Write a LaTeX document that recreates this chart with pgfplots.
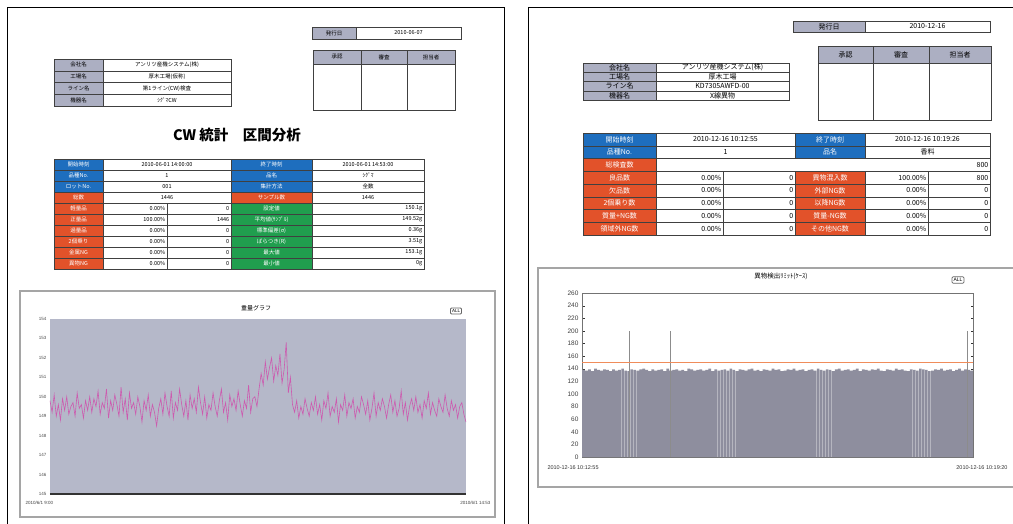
\documentclass[border=0pt]{standalone}
\usepackage{pgfplots}
\pgfplotsset{compat=1.18}
\usepackage{fontspec}
\setmainfont{Noto Sans CJK JP}
\newfontfamily\lat{Liberation Sans}

\definecolor{hdgray}{RGB}{172,175,194}
\definecolor{cblue}{RGB}{30,110,190}
\definecolor{cred}{RGB}{226,82,42}
\definecolor{cgreen}{RGB}{32,158,78}
\definecolor{plotbg}{RGB}{181,184,201}
\definecolor{wline}{RGB}{205,90,175}
\definecolor{barcol}{RGB}{142,142,158}
\definecolor{limit}{RGB}{240,140,90}
\definecolor{framegray}{RGB}{165,165,165}

% label cell: fill, text colour, x, y, w, h, text
\newcommand\lab[7]{\node[fill=#1, draw=black!75, line width=0.4pt, text=#2, minimum width=#5pt, minimum height=#6pt, anchor=north west, inner sep=0pt, outer sep=0pt] at (#3,-#4) {#7};}
% value cell: x, y, w, h, c/r, text
\newcommand\vcell[6]{\draw[black!75, line width=0.4pt, fill=white] (#1,-#2) rectangle ++(#3,-#4);
  \ifx c#5\node[inner sep=0pt] at ({#1+#3/2},{-#2-#4/2}) {#6};\else\node[inner sep=0pt, anchor=east] at ({#1+#3-1.5},{-#2-#4/2}) {#6};\fi}

\begin{document}
\begin{tikzpicture}[x=1pt,y=1pt]
\useasboundingbox (0,0) rectangle (1013,-524);
\clip (0,0) rectangle (1013,-524);
\fill[white] (0,0) rectangle (1013,-524);

%% ---------------- left page ----------------
\draw[line width=1pt] (7,-540) -- (7,-8) -- (504,-8) -- (504,-540);
\begin{scope}[font=\fontsize{5.5}{6}\selectfont]
  \lab{hdgray}{black}{312}{27}{44}{12}{発行日}
  \vcell{356}{27}{105}{12}{c}{2010-06-07}
  \lab{hdgray}{black}{313}{50}{48}{14}{承認}
  \lab{hdgray}{black}{361}{50}{46}{14}{審査}
  \lab{hdgray}{black}{407}{50}{48}{14}{担当者}
  \vcell{313}{64}{48}{46}{c}{}
  \vcell{361}{64}{46}{46}{c}{}
  \vcell{407}{64}{48}{46}{c}{}

  \lab{hdgray}{black}{54}{59}{49}{11.75}{会社名}
  \vcell{103}{59}{128}{11.75}{c}{アンリツ産機システム(株)}
  \lab{hdgray}{black}{54}{70.75}{49}{11.75}{工場名}
  \vcell{103}{70.75}{128}{11.75}{c}{厚木工場(仮称)}
  \lab{hdgray}{black}{54}{82.5}{49}{11.75}{ライン名}
  \vcell{103}{82.5}{128}{11.75}{c}{第1ライン(CW)検査}
  \lab{hdgray}{black}{54}{94.25}{49}{11.75}{機器名}
  \vcell{103}{94.25}{128}{11.75}{c}{ｼｸﾞﾏCW}

  % main table
  \lab{cblue}{white}{54}{159}{49}{11}{開始時刻}
  \vcell{103}{159}{128}{11}{c}{2010-06-01 14:00:00}
  \lab{cblue}{white}{231}{159}{81}{11}{終了時刻}
  \vcell{312}{159}{112}{11}{c}{2010-06-01 14:53:00}
  \lab{cblue}{white}{54}{170}{49}{11}{品種No.}
  \vcell{103}{170}{128}{11}{c}{1}
  \lab{cblue}{white}{231}{170}{81}{11}{品名}
  \vcell{312}{170}{112}{11}{c}{ｼｸﾞﾏ}
  \lab{cblue}{white}{54}{181}{49}{11}{ロットNo.}
  \vcell{103}{181}{128}{11}{c}{001}
  \lab{cblue}{white}{231}{181}{81}{11}{集計方法}
  \vcell{312}{181}{112}{11}{c}{全数}
  \lab{cred}{white}{54}{192}{49}{11}{総数}
  \vcell{103}{192}{128}{11}{c}{1446}
  \lab{cred}{white}{231}{192}{81}{11}{サンプル数}
  \vcell{312}{192}{112}{11}{c}{1446}

  \lab{cred}{white}{54}{203}{49}{11}{軽量品}
  \vcell{103}{203}{64}{11}{r}{0.00\%}
  \vcell{167}{203}{64}{11}{r}{0}
  \lab{cgreen}{white}{231}{203}{81}{11}{設定値}
  \vcell{312}{203}{112}{11}{r}{150.1g}
  \lab{cred}{white}{54}{214}{49}{11}{正量品}
  \vcell{103}{214}{64}{11}{r}{100.00\%}
  \vcell{167}{214}{64}{11}{r}{1446}
  \lab{cgreen}{white}{231}{214}{81}{11}{平均値(ｻﾝﾌﾟﾙ)}
  \vcell{312}{214}{112}{11}{r}{149.52g}
  \lab{cred}{white}{54}{225}{49}{11}{過量品}
  \vcell{103}{225}{64}{11}{r}{0.00\%}
  \vcell{167}{225}{64}{11}{r}{0}
  \lab{cgreen}{white}{231}{225}{81}{11}{標準偏差(σ)}
  \vcell{312}{225}{112}{11}{r}{0.36g}
  \lab{cred}{white}{54}{236}{49}{11}{2個乗り}
  \vcell{103}{236}{64}{11}{r}{0.00\%}
  \vcell{167}{236}{64}{11}{r}{0}
  \lab{cgreen}{white}{231}{236}{81}{11}{ばらつき(R)}
  \vcell{312}{236}{112}{11}{r}{3.51g}
  \lab{cred}{white}{54}{247}{49}{11}{金属NG}
  \vcell{103}{247}{64}{11}{r}{0.00\%}
  \vcell{167}{247}{64}{11}{r}{0}
  \lab{cgreen}{white}{231}{247}{81}{11}{最大値}
  \vcell{312}{247}{112}{11}{r}{153.1g}
  \lab{cred}{white}{54}{258}{49}{11}{異物NG}
  \vcell{103}{258}{64}{11}{r}{0.00\%}
  \vcell{167}{258}{64}{11}{r}{0}
  \lab{cgreen}{white}{231}{258}{81}{11}{最小値}
  \vcell{312}{258}{112}{11}{r}{0g}
\end{scope}
\node[font=\fontsize{14.5}{15}\selectfont\bfseries] at (237,-135) {CW 統計　区間分析};

% weight chart
\draw[framegray, line width=1.2pt] (20,-291) rectangle (495,-517);
\node[font=\fontsize{6}{7}\selectfont] at (256,-308) {重量グラフ};
\node[draw=black!60, line width=0.8pt, rounded corners=1pt, font=\lat\fontsize{4.5}{5}\selectfont, inner sep=1.5pt] at (456,-311) {ALL};
\node[anchor=west, font=\lat\fontsize{4.5}{5}\selectfont, text=black!75] at (22,-503) {2010/6/1 9:00};
\node[anchor=east, font=\lat\fontsize{4.5}{5}\selectfont, text=black!75] at (494,-503) {2010/6/1 14:53};
\begin{axis}[at={(50pt,-494pt)}, anchor=south west, scale only axis,
  width=416pt, height=175pt,
  xmin=0, xmax=199, ymin=145, ymax=154,
  ytick={145,...,154}, xtick=\empty,
  axis lines*=left,
  x axis line style={line width=2pt, black!80},
  y axis line style={draw=none},
  ytick style={draw=none},
  yticklabel style={font=\lat\fontsize{4.5}{5}\selectfont, text=black!70},
  /pgf/number format/assume math mode=true,
  axis background/.style={fill=plotbg}]
\addplot[wline, line width=0.6pt, no markers] table[row sep=\\, header=false, x expr=\coordindex, y index=0] {
149.8\\149.2\\150.1\\149.0\\149.6\\148.8\\149.9\\149.3\\150.0\\149.1\\
149.5\\149.7\\149.0\\150.2\\149.4\\149.6\\148.9\\149.8\\149.3\\150.0\\
149.2\\149.9\\149.5\\150.3\\149.1\\149.7\\149.4\\150.4\\148.9\\149.8\\
149.3\\150.1\\149.6\\149.0\\150.5\\149.2\\149.9\\148.8\\150.2\\149.4\\
149.7\\149.1\\150.0\\149.5\\148.7\\149.8\\149.3\\150.1\\149.0\\149.6\\
149.2\\148.5\\149.4\\149.9\\149.1\\150.2\\149.5\\149.0\\150.3\\148.9\\
149.7\\149.3\\150.4\\149.6\\149.0\\149.8\\148.8\\150.1\\149.4\\149.9\\
149.2\\150.5\\149.7\\149.1\\150.0\\148.9\\149.6\\149.3\\150.2\\149.5\\
149.0\\149.8\\150.4\\149.2\\149.7\\148.8\\150.1\\149.5\\149.9\\149.3\\
150.3\\149.6\\149.0\\149.8\\149.4\\150.6\\149.2\\149.9\\150.0\\149.5\\
150.4\\151.2\\150.6\\151.8\\150.9\\151.5\\152.0\\150.8\\151.6\\151.1\\
152.2\\150.7\\151.4\\152.8\\150.2\\151.0\\
149.6\\149.2\\149.8\\148.9\\149.5\\149.1\\149.9\\149.4\\149.0\\149.7\\
149.3\\150.0\\149.1\\149.6\\148.8\\149.8\\149.4\\150.2\\149.0\\149.5\\
149.2\\149.9\\148.7\\149.6\\149.3\\150.1\\149.0\\149.7\\149.4\\149.9\\
148.9\\149.5\\149.2\\150.0\\149.6\\149.1\\149.8\\148.8\\149.4\\150.2\\
149.0\\149.7\\149.3\\149.9\\149.5\\148.9\\149.6\\150.1\\149.2\\149.8\\
149.0\\149.4\\150.3\\149.1\\149.7\\148.8\\149.5\\149.9\\149.3\\150.0\\
149.2\\149.6\\148.9\\149.8\\149.4\\150.2\\149.1\\149.7\\149.3\\149.0\\
149.9\\149.5\\149.2\\150.1\\149.4\\149.0\\149.8\\149.3\\149.6\\148.9\\
149.5\\149.7\\149.1\\148.7\\
};
\end{axis}

%% ---------------- right page ----------------
\draw[line width=1pt] (528,-540) -- (528,-8) -- (1030,-8);
\begin{scope}[font=\fontsize{7}{8}\selectfont]
  \lab{hdgray}{black}{793}{21}{72}{11}{発行日}
  \vcell{865}{21}{125}{11}{c}{2010-12-16}
  \lab{hdgray}{black}{818}{46}{55}{17}{承認}
  \lab{hdgray}{black}{873}{46}{56}{17}{審査}
  \lab{hdgray}{black}{929}{46}{62}{17}{担当者}
  \vcell{818}{63}{55}{57}{c}{}
  \vcell{873}{63}{56}{57}{c}{}
  \vcell{929}{63}{62}{57}{c}{}

  \lab{hdgray}{black}{583}{63}{73}{9.25}{会社名}
  \vcell{656}{63}{133}{9.25}{c}{アンリツ産機システム(株)}
  \lab{hdgray}{black}{583}{72.25}{73}{9.25}{工場名}
  \vcell{656}{72.25}{133}{9.25}{c}{厚木工場}
  \lab{hdgray}{black}{583}{81.5}{73}{9.25}{ライン名}
  \vcell{656}{81.5}{133}{9.25}{c}{KD7305AWFD-00}
  \lab{hdgray}{black}{583}{90.75}{73}{9.25}{機器名}
  \vcell{656}{90.75}{133}{9.25}{c}{X線異物}

  % main table
  \lab{cblue}{white}{583}{133}{73}{12.75}{開始時刻}
  \vcell{656}{133}{139}{12.75}{c}{2010-12-16 10:12:55}
  \lab{cblue}{white}{795}{133}{70}{12.75}{終了時刻}
  \vcell{865}{133}{125}{12.75}{c}{2010-12-16 10:19:26}
  \lab{cblue}{white}{583}{145.75}{73}{12.75}{品種No.}
  \vcell{656}{145.75}{139}{12.75}{c}{1}
  \lab{cblue}{white}{795}{145.75}{70}{12.75}{品名}
  \vcell{865}{145.75}{125}{12.75}{c}{香料}
  \lab{cred}{white}{583}{158.5}{73}{12.75}{総検査数}
  \vcell{656}{158.5}{334}{12.75}{r}{800}

  \lab{cred}{white}{583}{171.25}{73}{12.75}{良品数}
  \vcell{656}{171.25}{67}{12.75}{r}{0.00\%}
  \vcell{723}{171.25}{72}{12.75}{r}{0}
  \lab{cred}{white}{795}{171.25}{70}{12.75}{異物混入数}
  \vcell{865}{171.25}{63}{12.75}{r}{100.00\%}
  \vcell{928}{171.25}{62}{12.75}{r}{800}
  \lab{cred}{white}{583}{184}{73}{12.75}{欠品数}
  \vcell{656}{184}{67}{12.75}{r}{0.00\%}
  \vcell{723}{184}{72}{12.75}{r}{0}
  \lab{cred}{white}{795}{184}{70}{12.75}{外部NG数}
  \vcell{865}{184}{63}{12.75}{r}{0.00\%}
  \vcell{928}{184}{62}{12.75}{r}{0}
  \lab{cred}{white}{583}{196.75}{73}{12.75}{2個乗り数}
  \vcell{656}{196.75}{67}{12.75}{r}{0.00\%}
  \vcell{723}{196.75}{72}{12.75}{r}{0}
  \lab{cred}{white}{795}{196.75}{70}{12.75}{以降NG数}
  \vcell{865}{196.75}{63}{12.75}{r}{0.00\%}
  \vcell{928}{196.75}{62}{12.75}{r}{0}
  \lab{cred}{white}{583}{209.5}{73}{12.75}{質量+NG数}
  \vcell{656}{209.5}{67}{12.75}{r}{0.00\%}
  \vcell{723}{209.5}{72}{12.75}{r}{0}
  \lab{cred}{white}{795}{209.5}{70}{12.75}{質量-NG数}
  \vcell{865}{209.5}{63}{12.75}{r}{0.00\%}
  \vcell{928}{209.5}{62}{12.75}{r}{0}
  \lab{cred}{white}{583}{222.25}{73}{12.75}{領域外NG数}
  \vcell{656}{222.25}{67}{12.75}{r}{0.00\%}
  \vcell{723}{222.25}{72}{12.75}{r}{0}
  \lab{cred}{white}{795}{222.25}{70}{12.75}{その他NG数}
  \vcell{865}{222.25}{63}{12.75}{r}{0.00\%}
  \vcell{928}{222.25}{62}{12.75}{r}{0}
\end{scope}

% detection chart
\draw[framegray, line width=1.2pt] (538,-268) rectangle (1020,-487);
\node[font=\fontsize{6.5}{7}\selectfont] at (781,-276) {異物検出ﾘﾐｯﾄ(ｹｰｽ)};
\node[draw=black!60, line width=0.8pt, rounded corners=1pt, font=\lat\fontsize{5}{6}\selectfont, inner sep=1.5pt] at (958,-280) {ALL};
\node[anchor=west, font=\lat\fontsize{5.5}{6}\selectfont, text=black!80] at (544,-468) {2010-12-16 10:12:55};
\node[anchor=east, font=\lat\fontsize{5.5}{6}\selectfont, text=black!80] at (1011,-468) {2010-12-16 10:19:20};
\begin{axis}[at={(582pt,-457pt)}, anchor=south west, scale only axis,
  width=391pt, height=164pt,
  xmin=-0.5, xmax=129.5, ymin=0, ymax=260,
  ytick={0,20,...,260}, xtick=\empty,
  axis line style={black!55, line width=0.8pt},
  ytick style={black!80}, tick align=inside, major tick length=2.5pt,
  yticklabel style={font=\lat\fontsize{6.5}{7}\selectfont, text=black!75},
  /pgf/number format/assume math mode=true]
\addplot[ybar, bar width=0.9, fill=barcol, draw=none] table[row sep=\\, header=false, x expr=\coordindex, y index=0] {
138\\137\\139\\136\\140\\138\\137\\139\\138\\136\\
139\\137\\138\\140\\137\\136\\139\\138\\137\\139\\
140\\138\\136\\139\\137\\138\\139\\136\\140\\137\\
138\\139\\137\\138\\136\\140\\139\\137\\138\\139\\
137\\138\\140\\136\\139\\137\\138\\139\\137\\140\\
138\\136\\139\\138\\137\\139\\140\\137\\138\\136\\
139\\138\\137\\140\\138\\139\\136\\137\\139\\138\\
140\\137\\138\\139\\136\\138\\139\\137\\140\\138\\
137\\139\\138\\136\\139\\140\\137\\138\\139\\137\\
138\\140\\136\\139\\138\\137\\139\\138\\140\\137\\
136\\139\\138\\137\\140\\138\\139\\137\\136\\139\\
138\\137\\140\\139\\138\\136\\137\\139\\138\\140\\
137\\138\\139\\136\\138\\140\\137\\139\\138\\137\\
};
\addplot[ycomb, black!45, line width=0.6pt, no markers] coordinates {(15.3,200) (28.9,200) (127.7,200)};
\addplot[limit, line width=1.3pt, no markers] coordinates {(-0.5,150) (129.5,150)};
\end{axis}
\end{tikzpicture}
\end{document}
